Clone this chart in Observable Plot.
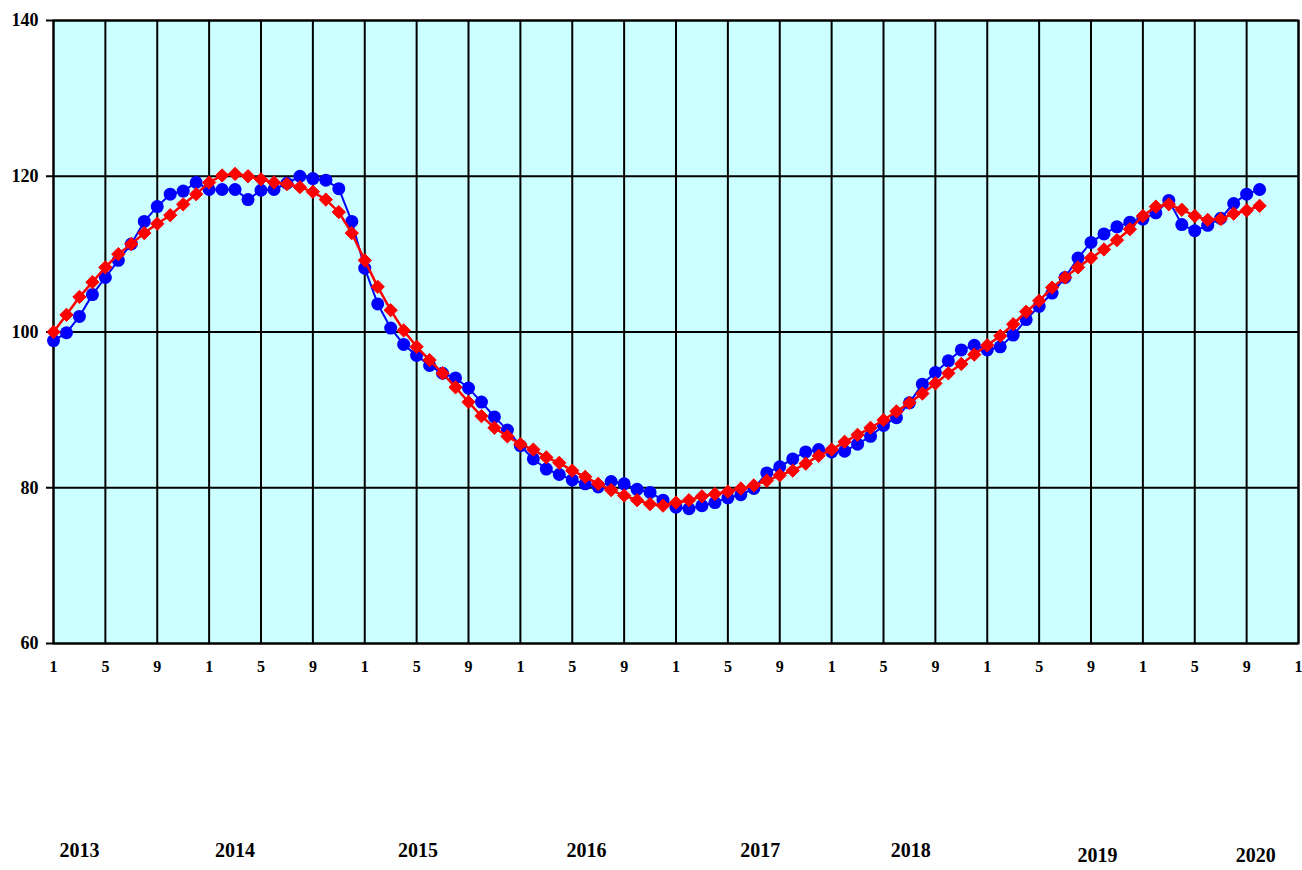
<!DOCTYPE html>
<html>
<head>
<meta charset="utf-8">
<script src="https://cdn.jsdelivr.net/npm/d3@7"></script>
<script src="https://cdn.jsdelivr.net/npm/@observablehq/plot@0.6"></script>
<style>
  html, body { margin: 0; padding: 0; background: #fff; overflow: hidden; }
  #chart { width: 1302px; height: 870px; }
</style>
</head>
<body>
<div id="chart"></div>
<script>
// Monthly values from Jan 2013 (index 0) to Oct 2020 (index 93)
const blueSeries = [
  98.9, 99.9, 102.0, 104.8, 107.0, 109.2, 111.3, 114.2, 116.1, 117.7, 118.1, 119.2,
  118.3, 118.3, 118.3, 117.0, 118.2, 118.3, 119.1, 120.0, 119.7, 119.5, 118.4, 114.2,
  108.2, 103.6, 100.5, 98.4, 97.0, 95.7, 94.7, 94.1, 92.8, 91.0, 89.1, 87.4,
  85.4, 83.7, 82.4, 81.7, 81.0, 80.5, 80.1, 80.8, 80.5, 79.8, 79.4, 78.4,
  77.5, 77.3, 77.7, 78.1, 78.7, 79.1, 79.9, 81.9, 82.7, 83.7, 84.6, 84.9,
  84.6, 84.7, 85.6, 86.6, 88.0, 89.0, 90.9, 93.3, 94.8, 96.3, 97.7, 98.3,
  97.7, 98.1, 99.6, 101.6, 103.3, 105.0, 107.0, 109.5, 111.5, 112.6, 113.5, 114.1,
  114.5, 115.3, 116.9, 113.8, 113.0, 113.7, 114.6, 116.5, 117.7, 118.3
];
const redSeries = [
  100.0, 102.2, 104.5, 106.4, 108.3, 110.0, 111.3, 112.7, 113.9, 115.0, 116.4, 117.7,
  119.2, 120.1, 120.3, 120.0, 119.6, 119.2, 119.0, 118.6, 118.0, 117.0, 115.4, 112.7,
  109.2, 105.8, 102.8, 100.2, 98.1, 96.4, 94.7, 92.9, 91.0, 89.2, 87.7, 86.6,
  85.6, 84.9, 83.9, 83.2, 82.2, 81.4, 80.5, 79.7, 79.0, 78.4, 77.9, 77.7,
  78.1, 78.4, 78.9, 79.2, 79.5, 79.9, 80.3, 80.9, 81.6, 82.2, 83.1, 84.1,
  84.9, 85.9, 86.8, 87.7, 88.7, 89.8, 90.9, 92.1, 93.4, 94.7, 95.9, 97.1,
  98.3, 99.5, 101.0, 102.6, 104.0, 105.7, 107.0, 108.3, 109.5, 110.6, 111.8, 113.2,
  114.9, 116.1, 116.4, 115.7, 114.9, 114.4, 114.5, 115.2, 115.6, 116.2
];
const yTicks = [60, 80, 100, 120, 140];
const xTicks = [0, 4, 8, 12, 16, 20, 24, 28, 32, 36, 40, 44, 48, 52, 56, 60, 64, 68, 72, 76, 80, 84, 88, 92, 96];
const xTickLabels = ["1","5","9","1","5","9","1","5","9","1","5","9","1","5","9","1","5","9","1","5","9","1","5","9","1"];
const yearLabels = ["2013", "2014", "2015", "2016", "2017", "2018", "2019", "2020"];
const yearAt = [2.0, 14.0, 28.1, 41.1, 54.5, 66.1, 80.5, 92.7];

const blueData = blueSeries.map((v, i) => ({m: i, v}));
const redData = redSeries.map((v, i) => ({m: i, v}));
const years = yearLabels.map((t, i) => ({t, m: yearAt[i], low: i >= 6}));

const font = "'Liberation Serif', 'Times New Roman', serif";

const chart = Plot.plot({
  width: 1302,
  height: 870,
  marginLeft: 53,
  marginRight: 4,
  marginTop: 20,
  marginBottom: 227,
  style: {background: "#fff", fontFamily: font},
  x: {domain: [0, 96], axis: null},
  y: {domain: [60, 140], axis: null},
  marks: [
    Plot.frame({fill: "#CCFFFF", stroke: null}),
    Plot.gridY(yTicks, {stroke: "#000", strokeOpacity: 1, strokeWidth: 2}),
    Plot.gridX(xTicks, {stroke: "#000", strokeOpacity: 1, strokeWidth: 2}),
    Plot.frame({stroke: "#000", strokeWidth: 2}),
    Plot.axisY(yTicks, {
      label: null,
      tickSize: 7, tickPadding: 8, stroke: "#000", strokeWidth: 2,
      fontSize: 18, fontWeight: "bold", fill: "#000", fontFamily: font
    }),
    Plot.axisX(xTicks, {
      label: null,
      tickSize: 0, tickPadding: 17,
      tickFormat: (d) => xTickLabels[xTicks.indexOf(d)],
      fontSize: 16, fontWeight: "bold", fill: "#000", fontFamily: font
    }),
    Plot.line(blueData, {x: "m", y: "v", stroke: "#0000FF", strokeWidth: 2}),
    Plot.dot(blueData, {x: "m", y: "v", r: 6.5, fill: "#0000FF", stroke: "none"}),
    Plot.line(redData, {x: "m", y: "v", stroke: "#FF0000", strokeWidth: 2.5}),
    Plot.dot(redData, {x: "m", y: "v", r: 6, symbol: "diamond2", fill: "#FF0000", stroke: "#FF0000", strokeWidth: 1}),
    Plot.text(years.filter(d => !d.low), {
      x: "m", text: "t", frameAnchor: "bottom", dy: 213,
      fontSize: 20, fontWeight: "bold", fill: "#000", fontFamily: font
    }),
    Plot.text(years.filter(d => d.low), {
      x: "m", text: "t", frameAnchor: "bottom", dy: 218,
      fontSize: 20, fontWeight: "bold", fill: "#000", fontFamily: font
    })
  ]
});
document.getElementById("chart").appendChild(chart);
</script>
</body>
</html>
